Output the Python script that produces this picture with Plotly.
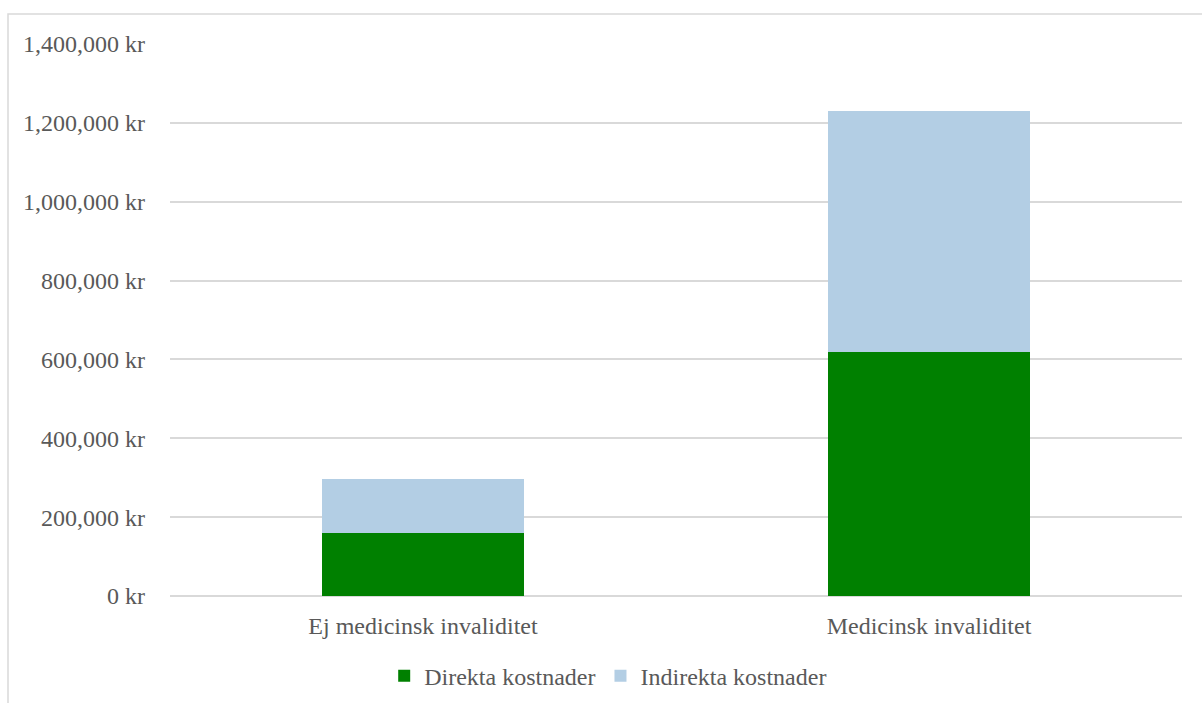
import plotly.graph_objects as go

categories = ["Ej medicinsk invaliditet", "Medicinsk invaliditet"]
direkta = [160000, 620000]
indirekta = [137000, 610000]
tick_values = [0, 200000, 400000, 600000, 800000, 1000000, 1200000, 1400000]
tick_labels = [f"{v:,} kr" for v in tick_values]

FONT = "Liberation Serif, Times New Roman, serif"
TEXT = "#595959"
GRID = "#d9d9d9"

fig = go.Figure()
fig.add_trace(go.Bar(name="Direkta kostnader", x=categories, y=direkta,
                     marker=dict(color="#008000", line=dict(width=0))))
fig.add_trace(go.Bar(name="Indirekta kostnader", x=categories, y=indirekta,
                     marker=dict(color="#b3cee4", line=dict(width=0))))

fig.update_layout(
    barmode="stack",
    bargap=0.6,
    width=1202, height=703,
    margin=dict(l=170, r=20, t=44, b=107, autoexpand=False),
    paper_bgcolor="white", plot_bgcolor="white",
    font=dict(family=FONT, size=24, color=TEXT),
    showlegend=True,
    legend=dict(orientation="h", x=0.433, xanchor="center", y=-0.145, yanchor="middle",
                font=dict(family=FONT, size=24, color=TEXT), itemwidth=30,
                traceorder="normal"),
    xaxis=dict(showgrid=False, showline=False, ticks="", ticklabelstandoff=13,
               automargin=False,
               tickfont=dict(family=FONT, size=24, color=TEXT)),
    yaxis=dict(range=[0, 1400000], tickvals=tick_values, ticktext=tick_labels,
               showgrid=True, gridcolor=GRID, gridwidth=1.5,
               zeroline=True, zerolinecolor=GRID, zerolinewidth=1.5,
               showline=False, ticks="", ticklabelstandoff=24, automargin=False,
               tickfont=dict(family=FONT, size=24, color=TEXT)),
    shapes=[dict(type="rect", xref="paper", yref="paper",
                 x0=(8 - 170) / 1012, x1=(1215 - 170) / 1012,
                 y0=-(715 - 596) / 552, y1=1 + (44 - 14) / 552,
                 line=dict(color=GRID, width=1.5), layer="below")],
)

fig.write_html("out.html")
